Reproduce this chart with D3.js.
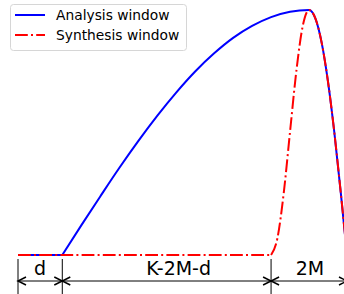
<!DOCTYPE html>
<html>
<head>
<meta charset="utf-8">
<script src="https://cdn.jsdelivr.net/npm/d3@7"></script>
<style>
  body { margin: 0; background: #fff; }
  svg { display: block; font-family: "DejaVu Sans", sans-serif; }
</style>
</head>
<body>
<script>
// window parameters (in samples)
var K = 520, M = 60, d = 70;

// analysis window (flat part, then rise + fall)
var anaFlatN = [0, 70];
var anaFlatV = [0, 0];
var anaN = [70, 100, 130, 160, 190, 220, 250, 280, 310, 340, 370, 400, 430, 460, 470, 480, 490, 500, 510, 520];
var anaV = [0, .121, .239, .355, .465, .568, .663, .749, .823, .886, .935, .971, .993, 1, .966, .866, .707, .5, .259, 0];

// synthesis window
var synFlatN = [0, 400];
var synFlatV = [0, 0];
var synN = [400, 410, 420, 430, 440, 450, 460, 470, 480, 490, 500, 510, 520];
var synV = [0, .068, .253, .504, .752, .934, 1, .966, .866, .707, .5, .259, 0];

// dimension marks
var spans = [
  { from: 0, to: d, label: "d", shift: 0 },
  { from: d, to: K - 2 * M, label: "K-2M-d", shift: 12 },
  { from: K - 2 * M, to: K, label: "2M", shift: 1 }
];
var legendItems = [
  { name: "Analysis window", color: "#0000ff", dash: null },
  { name: "Synthesis window", color: "#ff0000", dash: "12.8,3.2,2,3.2" }
];

var w = 344, h = 294;

var svg = d3.select("body").append("svg")
    .attr("width", w)
    .attr("height", h);

var x = d3.scaleLinear().domain([0, K]).range([18, 347]);
var y = d3.scaleLinear().domain([0, 1]).range([255, 10]);

var line = d3.line()
    .x(function(p) { return x(p[0]); })
    .y(function(p) { return y(p[1]); })
    .curve(d3.curveMonotoneX);

function drawWindow(pieces, color, dash) {
    var dstr = pieces.map(function(p) { return line(d3.zip(p[0], p[1])); }).join("");
    svg.append("path")
        .attr("d", dstr)
        .attr("fill", "none")
        .attr("stroke", color)
        .attr("stroke-width", 2)
        .attr("stroke-dasharray", dash);
}

drawWindow([[anaFlatN, anaFlatV], [anaN, anaV]], "#0000ff", null);
drawWindow([[synFlatN, synFlatV], [synN, synV]], "#ff0000", "12.8,3.2,2,3.2");

// vertical guides
var ticks = [0, d, K - 2 * M, K];
svg.selectAll("line.guide")
    .data(ticks)
    .enter()
    .append("line")
    .attr("class", "guide")
    .attr("x1", function(t) { return x(t); })
    .attr("x2", function(t) { return x(t); })
    .attr("y1", 259)
    .attr("y2", h)
    .attr("stroke", "#000")
    .attr("stroke-width", 1);

// double arrows
var ay = 281, hl = 8, hw = 4;
spans.forEach(function(s) {
    var x0 = x(s.from), x1 = x(s.to);
    svg.append("line")
        .attr("x1", x0).attr("x2", x1)
        .attr("y1", ay).attr("y2", ay)
        .attr("stroke", "#000").attr("stroke-width", 1);
    svg.append("path")
        .attr("d", "M" + (x0 + hl) + "," + (ay - hw) + "L" + x0 + "," + ay + "L" + (x0 + hl) + "," + (ay + hw))
        .attr("fill", "none").attr("stroke", "#000").attr("stroke-width", 1.5);
    svg.append("path")
        .attr("d", "M" + (x1 - hl) + "," + (ay - hw) + "L" + x1 + "," + ay + "L" + (x1 - hl) + "," + (ay + hw))
        .attr("fill", "none").attr("stroke", "#000").attr("stroke-width", 1.5);
    svg.append("text")
        .attr("x", (x0 + x1) / 2 + s.shift)
        .attr("y", 275)
        .attr("text-anchor", "middle")
        .attr("font-size", 19)
        .attr("fill", "#000")
        .text(s.label);
});

// legend
var lg = svg.append("g");
lg.append("rect")
    .attr("x", 10.5).attr("y", 4.5)
    .attr("width", 176).attr("height", 46)
    .attr("rx", 3)
    .attr("fill", "#fff").attr("fill-opacity", 0.8)
    .attr("stroke", "#d6d6d6");
legendItems.forEach(function(it, i) {
    var ly = 15 + i * 20;
    lg.append("line")
        .attr("x1", 15).attr("x2", 45)
        .attr("y1", ly).attr("y2", ly)
        .attr("stroke", it.color).attr("stroke-width", 2)
        .attr("stroke-dasharray", it.dash);
    lg.append("text")
        .attr("x", 56).attr("y", ly + 5)
        .attr("font-size", 13.8)
        .attr("fill", "#000")
        .text(it.name);
});
</script>
</body>
</html>
